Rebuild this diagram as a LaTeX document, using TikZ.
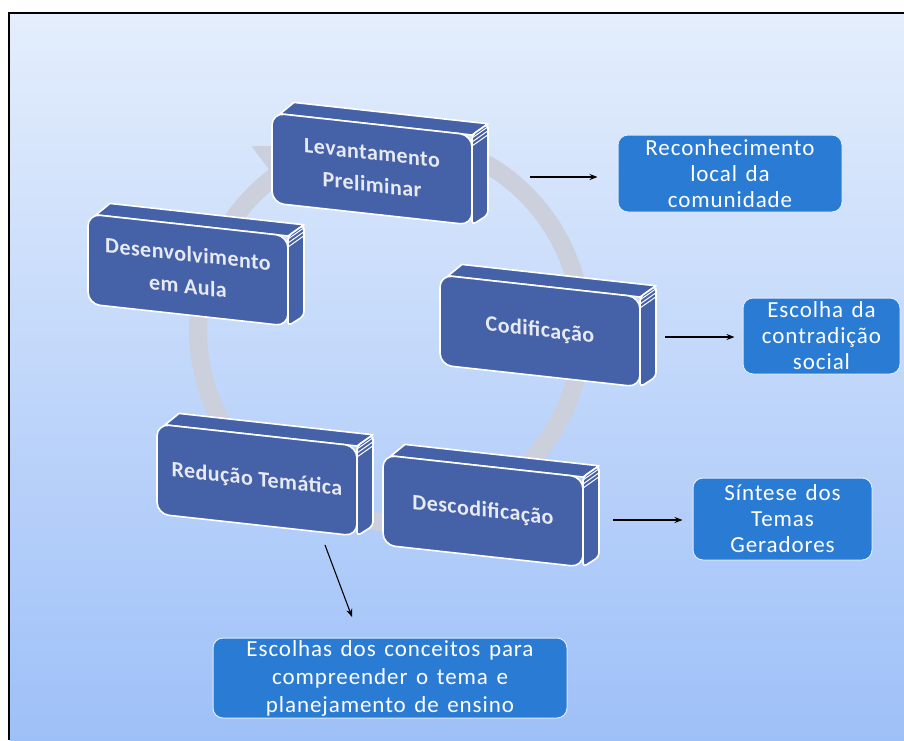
\documentclass[tikz,border=0pt]{standalone}
\usepackage{fontspec}
\usetikzlibrary{arrows.meta}

\newfontfamily\stepfont[LetterSpace=2]{Carlito}
\newfontfamily\notefont[LetterSpace=4,WordSpace=1.4]{Carlito}

\definecolor{blockblue}{RGB}{69,98,168}
\definecolor{noteblue}{RGB}{42,123,212}
\definecolor{ringgray}{RGB}{204,208,220}
\definecolor{bgtop}{RGB}{228,238,252}
\definecolor{bgbottom}{RGB}{158,192,248}
\definecolor{steptext}{RGB}{232,234,242}

\tikzset{
  blockface/.style={fill=blockblue, draw=white, line width=1.6pt, line join=round},
  steplabel/.style={text=steptext, align=center, transform shape,
    font=\stepfont\bfseries\fontsize{22}{32}\selectfont},
  note/.style={fill=noteblue, draw=white!85!noteblue, line width=1pt,
    rounded corners=10pt, text=white, align=center, inner sep=0pt,
    font=\notefont\fontsize{23}{26}\selectfont},
  flow/.style={-{Stealth[length=8pt,width=6pt]}, line width=1.1pt, black},
}

% A slanted 3D block: #1 name, (#2,#3) front top-left corner, #4 label
\newcommand\cycleblock[4]{%
  \begin{scope}[cm={1,-0.11,0,1,(#2,#3)}]
    % top face
    \path[blockface] (8,0) -- (22,-13) -- (216,-13) -- (200,0) -- cycle;
    % side face
    \path[blockface, rounded corners=4pt] (200,0) -- (216,-13) -- (216,78) -- (200,90) -- cycle;
    \foreach \k in {3,7,11}
      \draw[white, line width=1pt] (200,\k) -- (216,\k-13);
    % front face
    \path[blockface, rounded corners=12pt] (0,0) rectangle (200,90);
    \node[steplabel] (#1) at (100,45) {#4};
  \end{scope}}

\begin{document}
\begin{tikzpicture}[x=1pt, y=-1pt]
  \useasboundingbox (0,0) rectangle (904,740);
  \fill[white] (0,0) rectangle (904,740);
  \shade[top color=bgtop, bottom color=bgbottom] (10,14) rectangle (904,740);
  \draw[black, line width=2pt] (9,740) -- (9,13) -- (904,13);

  % circular arrow behind the blocks
  \begin{scope}[shift={(390,330)}]
    \fill[ringgray] (300:201) arc[start angle=300, end angle=593, radius=201]
      -- (593:230) -- (615:192) -- (593:155) -- (593:183)
      arc[start angle=593, end angle=300, radius=183] -- cycle;
  \end{scope}

  \cycleblock{lev}{272}{113}{Levantamento\\Preliminar}
  \cycleblock{dev}{88}{214}{Desenvolvimento\\em Aula}
  \cycleblock{cod}{440}{275}{Codificação}
  \cycleblock{red}{157}{424}{Redução Temática}
  \cycleblock{des}{383}{455}{Descodificação}

  % result notes
  \node[note, minimum width=224pt, minimum height=77pt] (rec) at (730,173.5)
    {Reconhecimento\\local da\\comunidade};
  \node[note, minimum width=157pt, minimum height=76pt] (con) at (821.5,336)
    {Escolha da\\contradição\\social};
  \node[note, minimum width=179pt, minimum height=82pt] (sin) at (782.5,519)
    {Síntese dos\\Temas\\Geradores};
  \node[note, minimum width=354pt, minimum height=80pt,
        font=\notefont\fontsize{23}{28}\selectfont] (esc) at (390,678)
    {Escolhas dos conceitos para\\compreender o tema e\\planejamento de ensino};

  % connectors
  \coordinate (lev-out) at (530,177);
  \coordinate (rec-in) at ([xshift=-20pt]rec.west |- lev-out);
  \coordinate (cod-out) at (665,337);
  \coordinate (con-in) at ([xshift=-8pt]con.west |- cod-out);
  \coordinate (des-out) at (613,520);
  \coordinate (sin-in) at ([xshift=-10pt]sin.west |- des-out);
  \coordinate (red-out) at (325,545);
  \coordinate (esc-in) at (352,617);
  \draw[flow] (lev-out) -- (rec-in);
  \draw[flow] (cod-out) -- (con-in);
  \draw[flow] (des-out) -- (sin-in);
  \draw[flow] (red-out) -- (esc-in);
\end{tikzpicture}
\end{document}
